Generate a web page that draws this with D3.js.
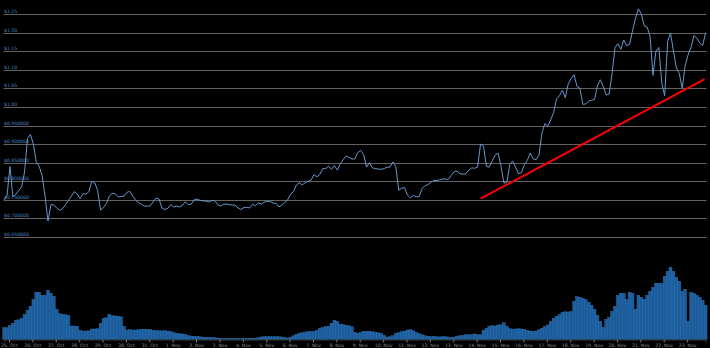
<!DOCTYPE html>
<html>
<head>
<meta charset="utf-8">
<script src="https://cdn.jsdelivr.net/npm/d3@7"></script>
<style>
  html, body { margin: 0; padding: 0; background: #000; }
  svg { display: block; }
</style>
</head>
<body>
<svg id="chart" width="710" height="348"></svg>
<script>
// Series starts 24 Oct 2017 19:00 UTC, one sample every 3 hours.
const seriesStart = "2017-10-24T19:00:00Z";
const stepHours = 3;

// Closing price (USD) per 3-hour step.
const prices = [
  0.750,0.762,0.840,0.758,0.765,0.775,0.785,0.825,0.915,0.926,
  0.900,0.852,0.840,0.815,0.760,0.693,0.737,0.736,0.728,0.722,
  0.726,0.737,0.748,0.760,0.772,0.766,0.753,0.767,0.765,0.772,
  0.800,0.796,0.775,0.722,0.730,0.740,0.760,0.768,0.766,0.758,
  0.759,0.760,0.770,0.773,0.760,0.750,0.742,0.738,0.733,0.733,
  0.734,0.745,0.755,0.752,0.728,0.724,0.727,0.737,0.731,0.733,
  0.731,0.735,0.745,0.737,0.738,0.750,0.752,0.749,0.747,0.747,
  0.744,0.748,0.748,0.738,0.733,0.738,0.739,0.737,0.736,0.736,
  0.728,0.724,0.729,0.730,0.728,0.738,0.734,0.742,0.738,0.744,
  0.746,0.746,0.741,0.741,0.731,0.736,0.743,0.750,0.765,0.772,
  0.790,0.796,0.790,0.796,0.800,0.803,0.818,0.812,0.818,0.834,
  0.834,0.840,0.832,0.842,0.830,0.847,0.858,0.868,0.864,0.860,
  0.860,0.877,0.883,0.872,0.838,0.850,0.836,0.834,0.833,0.832,
  0.834,0.838,0.838,0.852,0.840,0.776,0.781,0.783,0.763,0.755,
  0.762,0.758,0.759,0.780,0.788,0.791,0.797,0.802,0.802,0.804,
  0.806,0.806,0.805,0.816,0.826,0.827,0.820,0.819,0.820,0.830,
  0.836,0.835,0.838,0.900,0.895,0.840,0.838,0.855,0.870,0.876,
  0.840,0.795,0.797,0.845,0.854,0.838,0.820,0.823,0.845,0.856,
  0.876,0.860,0.858,0.870,0.930,0.955,0.948,0.965,0.985,1.022,
  1.030,1.045,1.025,1.062,1.076,1.087,1.055,1.050,1.007,1.008,
  1.016,1.018,1.020,1.057,1.073,1.055,1.032,1.035,1.090,1.160,
  1.170,1.155,1.180,1.165,1.168,1.205,1.238,1.264,1.250,1.218,
  1.215,1.190,1.085,1.150,1.160,1.065,1.030,1.175,1.199,1.150,
  1.105,1.090,1.050,1.110,1.140,1.160,1.192,1.185,1.172,1.165,
  1.200
];

// Traded volume per 3-hour step (arbitrary units).
const volumes = [
  11.6,11.6,14,16,19,19.5,21,25,29,33,
  40,47,47,44,44,49,46,43,30,25.5,
  25,24.5,24,13.3,13.3,13,9,8.3,8.3,8.5,
  10.3,10.3,10.5,16,21,21.5,25,23.6,23.4,23,
  22.5,13,9.3,9.5,9.3,9.3,9.6,10,10,10,
  9.8,9,8.6,8.6,8.4,8.6,8.2,7.8,6.5,6,
  5.5,5.3,5,3.8,3.3,3,2.8,2.5,2,2,
  1.8,1.8,1.6,1.2,1.0,0.9,0.8,0.8,0.8,0.7,
  0.7,0.8,0.9,1.0,1.0,1.0,1.2,1.5,2.3,2.6,
  2.6,2.6,2.5,2.6,2.6,2.3,1.8,1.2,2.2,3.5,
  5,6,6.5,7,7.5,7.8,8,9,11,12,
  12.6,13,16,19,18,15,15,14,13.5,12.5,
  7,6,7,8,7.8,8,7.6,7,6.5,6,
  4,2.2,2.6,3.5,6,6.8,7.6,8.3,9.3,9.5,
  8.6,7,5.5,4.5,3.5,3,2.6,2.8,2.5,2.3,
  2.6,2.5,2.2,1.6,2.2,3,3.5,4,4.5,4.5,
  4.8,5.3,4.6,4.5,9,11,13,13.5,13.3,14.3,
  14.5,16.5,13,10.5,10.3,10.3,10.5,10.3,10,9,
  8.3,8,8.3,9.5,11,13,14.3,18,21,23,
  24.5,27,27.5,27.3,28,38,42.6,42,41,39.5,
  37,34,30,24,18,12,20,22,28,33,
  44,46,46,40,47,46,30,44,42,40,
  44,48,52,56,56,56,63,68,72,68,
  62,58,48,50,18,47,46,44,42,39,
  34
];

// Price axis gridlines and their labels.
const priceTicks = [0.65, 0.70, 0.75, 0.80, 0.85, 0.90, 0.95, 1.00, 1.05, 1.10, 1.15, 1.20, 1.25];
const priceTickLabels = ["$0.650000","$0.700000","$0.750000","$0.800000","$0.850000","$0.900000",
                         "$0.950000","$1.00","$1.05","$1.10","$1.15","$1.20","$1.25"];

// Support trend line: two anchor points.
const trendTimes = ["2017-11-14T04:00:00Z", "2017-11-23T18:00:00Z"];
const trendValues = [0.753, 1.075];

const svg = d3.select("#chart");
const W = 710;

const t0 = new Date(seriesStart);
const times = prices.map((_, i) => new Date(t0.getTime() + i * stepHours * 3600e3));
const tEnd = times[times.length - 1];

const x = d3.scaleUtc().domain([t0, tEnd]).range([4.13, 705.6]);
const y = d3.scaleLinear().domain([0.65, 1.25]).range([237, 14]);
const yv = d3.scaleLinear().domain([0, 80]).range([339.3, 259.3]);

svg.append("rect").attr("width", W).attr("height", 348).attr("fill", "#000");

// Horizontal gridlines with labels sitting on them
const grid = svg.append("g");
grid.selectAll("line").data(priceTicks).join("line")
  .attr("x1", 3.5).attr("x2", 706.5)
  .attr("y1", d => Math.round(y(d)) + 0.5).attr("y2", d => Math.round(y(d)) + 0.5)
  .attr("stroke", "#636363").attr("stroke-width", 1);
grid.selectAll("text").data(priceTicks).join("text")
  .attr("x", 4).attr("y", d => Math.round(y(d)) - 0.6)
  .attr("font-family", "DejaVu Sans, sans-serif").attr("font-size", 4.6)
  .attr("fill", "#4a86c0")
  .text((d, i) => priceTickLabels[i]);

// Volume columns
const step = x(times[1]) - x(times[0]);
svg.append("g").selectAll("rect").data(volumes).join("rect")
  .attr("x", (d, i) => x(times[i]) - step / 2)
  .attr("width", step)
  .attr("y", d => yv(d))
  .attr("height", d => yv(0) - yv(d))
  .attr("fill", "#1a5c9c")
  .attr("stroke", "#3a80c4").attr("stroke-width", 0.35);

// Time axis
const xAxis = d3.axisBottom(x)
  .ticks(d3.utcDay.every(1))
  .tickFormat(d3.utcFormat("%-d. %b"))
  .tickSize(3).tickPadding(1.5);
const ax = svg.append("g").attr("transform", "translate(0,339.5)").call(xAxis);
ax.select(".domain").attr("stroke", "#4a4a4a").attr("stroke-width", 0.8);
ax.selectAll(".tick line").attr("stroke", "#777");
ax.selectAll(".tick text").attr("fill", "#8c8c8c")
  .attr("font-family", "DejaVu Sans, sans-serif").attr("font-size", 4.6);

// Price line
const line = d3.line().x((d, i) => x(times[i])).y(d => y(d));
svg.append("path").datum(prices)
  .attr("d", line)
  .attr("fill", "none")
  .attr("stroke", "#6598cc")
  .attr("stroke-width", 1)
  .attr("stroke-linejoin", "round");

// Trend line
svg.append("line")
  .attr("x1", x(new Date(trendTimes[0]))).attr("y1", y(trendValues[0]))
  .attr("x2", x(new Date(trendTimes[1]))).attr("y2", y(trendValues[1]))
  .attr("stroke", "#ff0000").attr("stroke-width", 2);
</script>
</body>
</html>
